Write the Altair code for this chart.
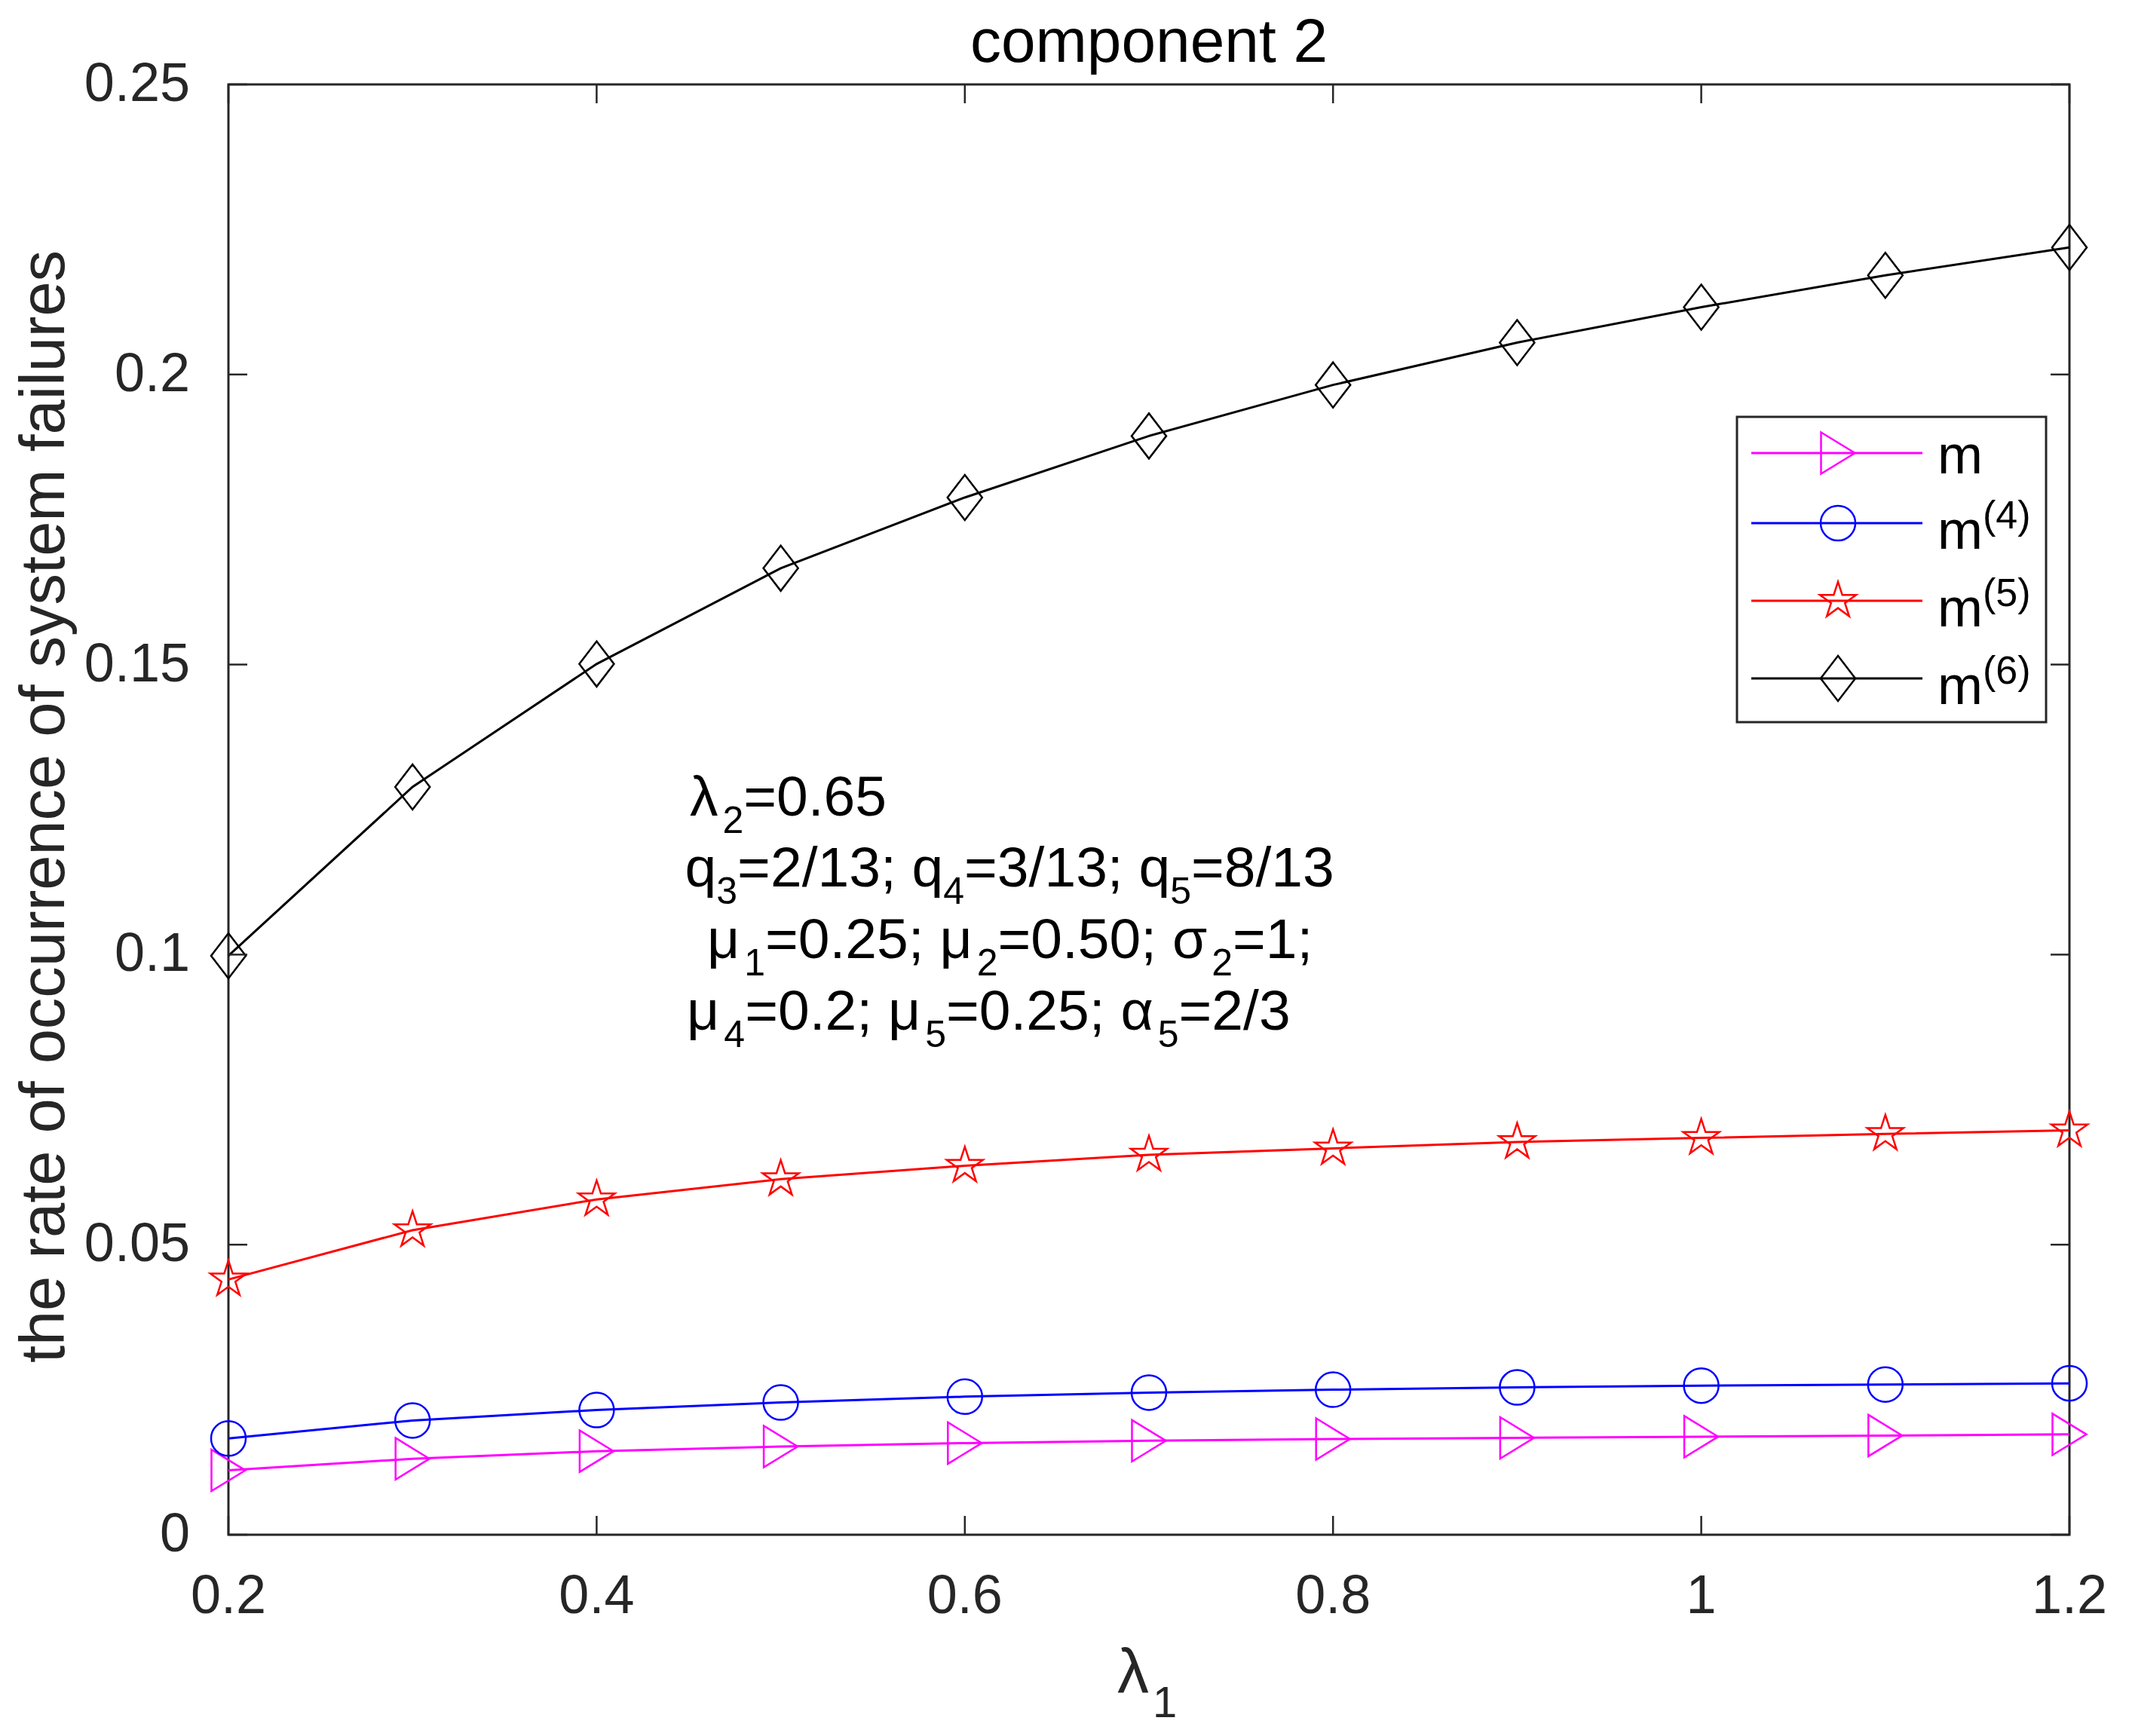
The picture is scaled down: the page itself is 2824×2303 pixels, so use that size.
import math
import altair as alt
import pandas as pd

# ---------------- data ----------------
lam1 = [0.2, 0.3, 0.4, 0.5, 0.6, 0.7, 0.8, 0.9, 1.0, 1.1, 1.2]
m_vals = [0.0111, 0.0131, 0.0144, 0.0152, 0.0158, 0.0162, 0.0165, 0.0167, 0.0169, 0.0171, 0.0173]
m4_vals = [0.0166, 0.0197, 0.0215, 0.0228, 0.0238, 0.0245, 0.0250, 0.0254, 0.0257, 0.0259, 0.0261]
m5_vals = [0.0440, 0.0525, 0.0578, 0.0613, 0.0636, 0.0655, 0.0666, 0.0677, 0.0684, 0.0691, 0.0697]
m6_vals = [0.0998, 0.1289, 0.1501, 0.1666, 0.1788, 0.1894, 0.1982, 0.2055, 0.2116, 0.2171, 0.2219]

series_names = ["m", "m4", "m5", "m6"]
series_colors = ["#FF00FF", "#0000FF", "#FF0000", "#000000"]
legend_base = ["m", "m", "m", "m"]
legend_sup = ["", "(4)", "(5)", "(6)"]

x_ticks = [0.2, 0.4, 0.6, 0.8, 1.0, 1.2]
y_ticks = [0, 0.05, 0.1, 0.15, 0.2, 0.25]

title_text = "component 2"
x_title_main = "λ"
x_title_sub = "1"
y_title = "the rate of occurrence of system failures"

# annotation: each line is a list of (text, is_subscript)
ann_segments = [
    [("λ", 0), ("2", 1), ("=0.65", 0)],
    [("q", 0), ("3", 1), ("=2/13; ", 0), ("q", 0), ("4", 1), ("=3/13; ", 0), ("q", 0), ("5", 1), ("=8/13", 0)],
    [("μ", 0), ("1", 1), ("=0.25; ", 0), ("μ", 0), ("2", 1), ("=0.50; ", 0), ("σ", 0), ("2", 1), ("=1;", 0)],
    [("μ", 0), ("4", 1), ("=0.2; ", 0), ("μ", 0), ("5", 1), ("=0.25; ", 0), ("α", 0), ("5", 1), ("=2/3", 0)],
]
ann_x = [0.4506, 0.4480, 0.4600, 0.4490]
ann_y = [0.1240, 0.1118, 0.0994, 0.0870]

# ---------------- styling ----------------
FONT = "Liberation Sans"
W, H = 2442, 1924
TXT = "#262626"
ANN_SIZE, ANN_SUB = 75, 50
SUB_DROP = 23  # px
GREEK_GAP = 6  # px

# approximate Arial/Liberation Sans advance widths (em)
CW = {c: 0.556 for c in "0123456789q"}
CW.update({"=": 0.584, ".": 0.278, ";": 0.278, "/": 0.278, " ": 0.278,
           "λ": 0.500, "μ": 0.577, "σ": 0.617, "α": 0.578})


def text_width(s, size):
    w = sum(CW.get(c, 0.556) for c in s) * size
    if s in ("λ", "μ", "σ", "α"):
        w += GREEK_GAP
    return w


def star_path(R=0.841, r_ratio=0.382):
    pts = []
    for i in range(10):
        ang = -math.pi / 2 + i * math.pi / 5
        rad = R if i % 2 == 0 else R * r_ratio
        pts.append((rad * math.cos(ang), rad * math.sin(ang)))
    return "M" + "L".join(f"{px:.3f},{py:.3f}" for px, py in pts) + "Z"


tri_path = "M-0.75,-0.917L0.75,0L-0.75,0.917Z"
circ_path = "M0.767,0A0.767,0.767,0,1,1,-0.767,0A0.767,0.767,0,1,1,0.767,0Z"
diam_path = "M0,-1L0.767,0L0,1L-0.767,0Z"
shape_paths = [tri_path, circ_path, star_path(), diam_path]
MARK_SIZE = 3600

rows = []
for name, vals in zip(series_names, [m_vals, m4_vals, m5_vals, m6_vals]):
    for xv, yv in zip(lam1, vals):
        rows.append({"x": xv, "y": yv, "series": name})
df = pd.DataFrame(rows)

color_scale = alt.Scale(domain=series_names, range=series_colors)
shape_scale = alt.Scale(domain=series_names, range=shape_paths)
x_scale = alt.Scale(domain=[0.2, 1.2], nice=False, zero=False)
y_scale = alt.Scale(domain=[0, 0.25], nice=False, zero=False)
X = lambda f="x": alt.X(f"{f}:Q", scale=x_scale, axis=None)
Y = lambda f="y": alt.Y(f"{f}:Q", scale=y_scale, axis=None)

base = alt.Chart(df)
lines = base.mark_line(strokeWidth=3).encode(
    x=X(), y=Y(),
    color=alt.Color("series:N", scale=color_scale, legend=None),
)
points = base.mark_point(filled=False, strokeWidth=2.5, size=MARK_SIZE, opacity=1).encode(
    x=X(), y=Y(),
    color=alt.Color("series:N", scale=color_scale, legend=None),
    shape=alt.Shape("series:N", scale=shape_scale, legend=None),
)

# inward ticks (MATLAB box style)
xt = pd.DataFrame({"x": x_ticks, "lab": [f"{v:g}" for v in x_ticks]})
yt = pd.DataFrame({"y": y_ticks, "lab": [f"{v:g}" for v in y_ticks]})
TL = 25
tick_layers = [
    alt.Chart(xt).mark_rule(color=TXT, strokeWidth=2.5).encode(x=X(), y=alt.value(H), y2=alt.value(H - TL)),
    alt.Chart(xt).mark_rule(color=TXT, strokeWidth=2.5).encode(x=X(), y=alt.value(0), y2=alt.value(TL)),
    alt.Chart(yt).mark_rule(color=TXT, strokeWidth=2.5).encode(y=Y(), x=alt.value(0), x2=alt.value(TL)),
    alt.Chart(yt).mark_rule(color=TXT, strokeWidth=2.5).encode(y=Y(), x=alt.value(W), x2=alt.value(W - TL)),
]

# tick labels
label_layers = [
    alt.Chart(xt).mark_text(align="center", baseline="alphabetic", font=FONT, fontSize=72, color=TXT).encode(
        x=X(), y=alt.value(H + 104), text="lab:N"),
    alt.Chart(yt).mark_text(align="right", baseline="middle", font=FONT, fontSize=72, color=TXT).encode(
        y=Y(), x=alt.value(-51), text="lab:N"),
]

# titles
one = pd.DataFrame({"k": [0]})
title_layers = [
    alt.Chart(one).mark_text(align="center", baseline="alphabetic", font=FONT, fontSize=82, color="#000000").encode(
        x=alt.value(W / 2), y=alt.value(-30), text=alt.value(title_text)),
    alt.Chart(one).mark_text(align="center", baseline="alphabetic", font=FONT, fontSize=83, color=TXT,
                             angle=270).encode(
        x=alt.value(-218), y=alt.value(H / 2 - 4), text=alt.value(y_title)),
    alt.Chart(one).mark_text(align="left", baseline="alphabetic", font=FONT, fontSize=84, color=TXT).encode(
        x=alt.value(1179), y=alt.value(H + 210), text=alt.value(x_title_main)),
    alt.Chart(one).mark_text(align="left", baseline="alphabetic", font=FONT, fontSize=58, color=TXT).encode(
        x=alt.value(1226), y=alt.value(H + 242), text=alt.value(x_title_sub)),
]

# annotation text built from segments (main text + subscripts)
seg_rows = []
for line, lx, ly in zip(ann_segments, ann_x, ann_y):
    off = 0.0
    for txt, sub in line:
        size = ANN_SUB if sub else ANN_SIZE
        seg_rows.append({
            "x": lx + off / W * (x_scale.domain[1] - x_scale.domain[0]),
            "y": ly - (SUB_DROP / H * 0.25 if sub else 0.0),
            "txt": txt, "sub": sub,
        })
        off += text_width(txt, size)
seg_df = pd.DataFrame(seg_rows)
ann_main = alt.Chart(seg_df).transform_filter("datum.sub == 0").mark_text(
    align="left", baseline="alphabetic", font=FONT, fontSize=ANN_SIZE, color="#000000").encode(
    x=X(), y=Y(), text="txt:N")
ann_sub = alt.Chart(seg_df).transform_filter("datum.sub == 1").mark_text(
    align="left", baseline="alphabetic", font=FONT, fontSize=ANN_SUB, color="#000000").encode(
    x=X(), y=Y(), text="txt:N")

# legend (drawn manually, MATLAB style)
LX0, LX1, LY0, LY1 = 2001, 2411, 441, 846
legend_layers = [
    alt.Chart(one).mark_rect(fill="white", stroke=TXT, strokeWidth=3).encode(
        x=alt.value(LX0), x2=alt.value(LX1), y=alt.value(LY0), y2=alt.value(LY1))
]
row_y = [489, 582, 685, 788]
text_dy = [27, 34, 34, 34]
for i, name in enumerate(series_names):
    ry = row_y[i]
    legend_layers.append(
        alt.Chart(one).mark_rule(color=series_colors[i], strokeWidth=3).encode(
            x=alt.value(2020), x2=alt.value(2247), y=alt.value(ry), y2=alt.value(ry)))
    legend_layers.append(
        alt.Chart(one).mark_point(filled=False, strokeWidth=2.5, size=MARK_SIZE, opacity=1,
                                  color=series_colors[i], shape=shape_paths[i]).encode(
            x=alt.value(2135), y=alt.value(ry)))
    legend_layers.append(
        alt.Chart(one).mark_text(align="left", baseline="alphabetic", font=FONT, fontSize=72,
                                 color="#000000").encode(
            x=alt.value(2267), y=alt.value(ry + text_dy[i]), text=alt.value(legend_base[i])))
    if legend_sup[i]:
        legend_layers.append(
            alt.Chart(one).mark_text(align="left", baseline="alphabetic", font=FONT, fontSize=52,
                                     color="#000000").encode(
                x=alt.value(2327), y=alt.value(ry + 7), text=alt.value(legend_sup[i])))

chart = alt.layer(lines, points, *tick_layers, *label_layers, *title_layers, ann_main, ann_sub,
                  *legend_layers).properties(
    width=W,
    height=H,
    padding={"left": 295, "top": 104, "right": 71, "bottom": 259},
    autosize=alt.AutoSizeParams(type="none"),
    background="white",
).configure_view(stroke=TXT, strokeWidth=3)

chart.save("out.html", embed_options={"renderer": "svg", "actions": False})
